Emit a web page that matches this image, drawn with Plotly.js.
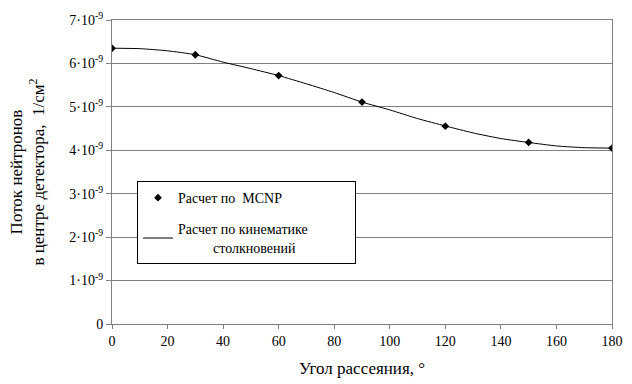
<!DOCTYPE html>
<html>
<head>
<meta charset="utf-8">
<script src="https://cdn.plot.ly/plotly-3.0.1.min.js"></script>
<style>
html,body{margin:0;padding:0;background:#fff;}
#fontwarm{position:absolute;left:-2000px;top:0;font-family:'Liberation Serif';font-size:14px;}
</style>
</head>
<body>
<div id="fontwarm">Расчет 0123456789</div>
<div id="chart"></div>
<script>
// MCNP calculation points (angle, flux)
const mcnpAngles = [0, 30, 60, 90, 120, 150, 180];
const mcnpFlux = [6.35e-9, 6.2e-9, 5.72e-9, 5.11e-9, 4.555e-9, 4.18e-9, 4.05e-9];
// Kinematics curve
const curveAngles = [0, 10, 20, 30, 40, 50, 60, 70, 80, 90, 100, 110, 120, 130, 140, 150, 160, 170, 180];
const curveFlux = [6.35e-9, 6.34e-9, 6.29e-9, 6.2e-9, 6.03e-9, 5.88e-9, 5.72e-9, 5.53e-9, 5.33e-9, 5.11e-9, 4.93e-9, 4.73e-9, 4.56e-9, 4.40e-9, 4.27e-9, 4.18e-9, 4.10e-9, 4.06e-9, 4.05e-9];
const yTickVals = [0, 1e-9, 2e-9, 3e-9, 4e-9, 5e-9, 6e-9, 7e-9];
const yTickText = ['0', '1·10<sup>-9</sup>', '2·10<sup>-9</sup>', '3·10<sup>-9</sup>', '4·10<sup>-9</sup>', '5·10<sup>-9</sup>', '6·10<sup>-9</sup>', '7·10<sup>-9</sup>'];
const xTickVals = [0, 20, 40, 60, 80, 100, 120, 140, 160, 180];

function mkFont() { return {family: 'Liberation Serif', size: 14}; }

const traces = [
  {
    x: mcnpAngles, y: mcnpFlux, type: 'scatter', mode: 'markers',
    marker: {symbol: 'diamond', size: 6, color: '#000'},
    name: 'Расчет по  MCNP', legendgroup: 'a'
  },
  {
    x: curveAngles, y: curveFlux, type: 'scatter', mode: 'lines',
    line: {color: '#000', width: 1, shape: 'spline', smoothing: 0.6},
    name: 'Расчет по кинематике            <br>          столкновений',
    showlegend: true, legendgroup: 'b'
  }
];

const layout = {
  width: 632, height: 384,
  margin: {l: 112, r: 20, t: 20, b: 60},
  paper_bgcolor: '#fff', plot_bgcolor: '#fff',
  font: {family: 'Liberation Serif', size: 14, color: '#000'},
  showlegend: true,
  legend: {
    x: 0.05, y: 0.47, xanchor: 'left', yanchor: 'top',
    bgcolor: '#fff', bordercolor: '#000', borderwidth: 1,
    tracegroupgap: 10, itemwidth: 30,
    traceorder: 'grouped'
  },
  xaxis: {
    range: [0, 180], tickvals: xTickVals, ticks: 'outside', ticklen: 4,
    tickcolor: '#808080', showline: true, linecolor: '#808080', linewidth: 1,
    mirror: true, showgrid: false, zeroline: false,
    title: {text: 'Угол рассеяния, °', standoff: 14}
  },
  yaxis: {
    range: [0, 7e-9], tickvals: yTickVals, ticktext: yTickText, ticks: 'outside', ticklen: 5,
    tickcolor: '#808080', showline: true, linecolor: '#808080', linewidth: 1,
    mirror: true, showgrid: true, gridcolor: '#808080', gridwidth: 1, zeroline: false,
    title: {text: 'Поток нейтронов<br>в центре детектора,  1/см<sup>2</sup>', standoff: 20}
  }
};

Plotly.newPlot('chart', traces, layout, {displayModeBar: false, staticPlot: true});
</script>
</body>
</html>
